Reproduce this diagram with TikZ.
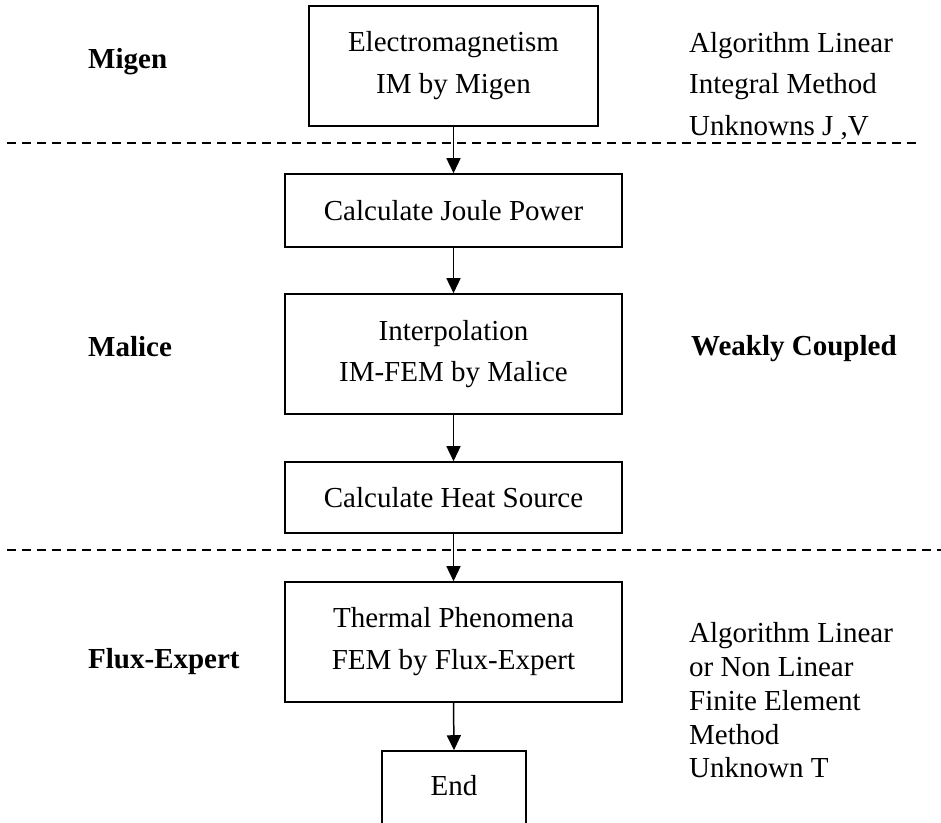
\documentclass[tikz,border=0pt]{standalone}
\usepackage{fontspec}
\setmainfont{Liberation Serif}
\usetikzlibrary{arrows.meta}
\begin{document}
\begin{tikzpicture}[x=1pt,y=-1pt,
  stepbox/.style={draw=black, line width=1.6pt, rectangle, inner sep=0pt, align=center,
    font=\fontsize{29}{42}\selectfont},
  flowarrow/.style={line width=1.5pt, -{Triangle[length=15pt,width=14pt]}},
  sepline/.style={line width=1.4pt, dash pattern=on 9pt off 6pt},
  sidelabel/.style={anchor=base west, inner sep=0pt, font=\fontsize{29}{34}\selectfont\bfseries},
  sidetext/.style={anchor=base west, inner sep=0pt, font=\fontsize{29}{34}\selectfont}]
\clip (0,0) rectangle (941,822);
\fill[white] (0,0) rectangle (941,822);

% boxes
\node[stepbox, minimum width=289pt, minimum height=120pt] (em) at (453.5,66) {Electromagnetism\\IM by Migen};
\node[stepbox, minimum width=337pt, minimum height=73pt] (joule) at (453.5,210.5) {Calculate Joule Power};
\node[stepbox, minimum width=337pt, minimum height=120pt, font=\fontsize{29}{41}\selectfont] (interp) at (453.5,354) {Interpolation\\IM-FEM by Malice};
\node[stepbox, minimum width=337pt, minimum height=71pt] (heat) at (453.5,497.5) {Calculate Heat Source};
\node[stepbox, minimum width=337pt, minimum height=120pt] (thermal) at (453.5,642) {Thermal Phenomena\\FEM by Flux-Expert};
\node[stepbox, minimum width=144pt, minimum height=78pt, text height=19.8pt, text depth=9.8pt] (endbox) at (454,790) {End};

% separators
\coordinate (d1a) at (7,143);
\coordinate (d1b) at (920,143);
\coordinate (d2a) at (7,550);
\coordinate (d2b) at (941,550);
\draw[sepline] (d1a) -- (d1b);
\draw[sepline] (d2a) -- (d2b);

% arrows
\draw[flowarrow] (em.south) -- (joule.north);
\draw[flowarrow] (joule.south) -- (interp.north);
\draw[flowarrow] (interp.south) -- (heat.north);
\draw[flowarrow] (heat.south) -- (thermal.north);
\draw[flowarrow] (thermal.south) -- (endbox.north);

% left labels
\node[sidelabel] (lmigen) at (88,68) {Migen};
\node[sidelabel] (lmalice) at (88,356) {Malice};
\node[sidelabel] (lflux) at (88,668) {Flux-Expert};

% right labels
\node[sidetext] (r1) at (689,52) {Algorithm Linear};
\node[sidetext] (r2) at (689,93) {Integral Method};
\node[sidetext] (r3) at (689,135) {Unknowns J ,V};
\node[sidelabel] (weak) at (691,355) {Weakly Coupled};
\node[sidetext] (s1) at (689,642) {Algorithm Linear};
\node[sidetext] (s2) at (689,676) {or Non Linear};
\node[sidetext] (s3) at (689,710) {Finite Element};
\node[sidetext] (s4) at (689,744) {Method};
\node[sidetext] (s5) at (689,777) {Unknown T};
\end{tikzpicture}
\end{document}
